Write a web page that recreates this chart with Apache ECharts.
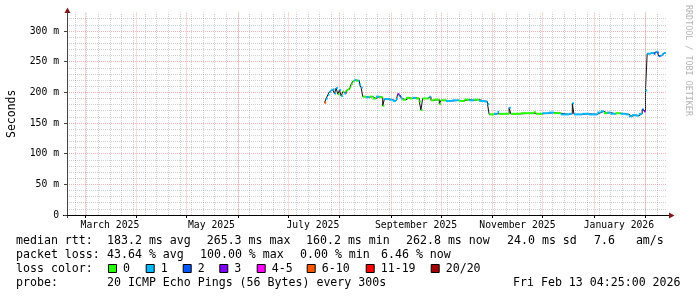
<!DOCTYPE html>
<html><head><meta charset="utf-8">
<script src="https://cdn.jsdelivr.net/npm/echarts@6/dist/echarts.min.js"></script>
<style>html,body{margin:0;padding:0;background:#fff}#c{width:697px;height:297px}</style>
</head><body><div id="c"></div>
<script>
// ---- data ----
const dates = ['2025-07-23','2025-07-24','2025-07-25','2025-07-26','2025-07-27','2025-07-28','2025-07-29','2025-07-30','2025-07-31',
'2025-08-01','2025-08-02','2025-08-03','2025-08-04','2025-08-05','2025-08-06','2025-08-07','2025-08-08','2025-08-09','2025-08-10',
'2025-08-11','2025-08-12','2025-08-13','2025-08-14','2025-08-15','2025-08-17','2025-08-19','2025-08-21','2025-08-23','2025-08-25',
'2025-08-27','2025-08-28','2025-08-31','2025-09-02','2025-09-04','2025-09-05','2025-09-06','2025-09-07','2025-09-08','2025-09-10',
'2025-09-12','2025-09-14','2025-09-16','2025-09-18','2025-09-19','2025-09-20','2025-09-23','2025-09-24','2025-09-25','2025-09-27',
'2025-09-30','2025-10-01','2025-10-04','2025-10-08','2025-10-12','2025-10-15','2025-10-18','2025-10-21','2025-10-24','2025-10-27',
'2025-10-29','2025-10-30','2025-11-02','2025-11-04','2025-11-05','2025-11-11','2025-11-12','2025-11-18','2025-11-26','2025-11-27',
'2025-12-01','2025-12-05','2025-12-08','2025-12-12','2025-12-17','2025-12-19','2025-12-20','2025-12-25','2025-12-29','2026-01-03',
'2026-01-05','2026-01-07','2026-01-09','2026-01-11','2026-01-14','2026-01-17','2026-01-20','2026-01-22','2026-01-24','2026-01-26',
'2026-01-28','2026-01-30','2026-01-31','2026-02-01','2026-02-02','2026-02-04','2026-02-06','2026-02-07','2026-02-08','2026-02-09',
'2026-02-10','2026-02-11','2026-02-12'];
const medians = [183,190,196,201,204,205,198,207,197,
204,194,201,198,203,205,208,213,218,220,
219,219,213,208,193,192,193,190,193,192,
178,189,188,186,189,197,194,190,188,191,
190,191,190,185,171,190,190,193,187,188,
181,187,186,187,186,188,187,188,186,185,
181,164,165,168,165,175,165,166,168,165,
166,167,166,164,165,182,164,165,164,167,
169,166,167,165,166,165,164,161,163,162,
165,172,169,203,263,264,263,266,265,259,
260,262,264];
const losses = [5,1,1,1,1,1,1,1,0,
1,1,0,1,0,0,0,0,0,1,
0,1,1,1,0,1,0,0,1,0,
0,1,1,1,1,3,2,1,0,0,
0,1,0,0,0,0,0,1,0,0,
0,0,1,1,0,0,1,0,1,1,
1,0,1,1,0,1,0,0,0,0,
1,1,0,1,1,1,1,1,1,1,
1,0,1,1,0,1,1,1,1,1,
1,2,3,1,1,1,2,1,2,2,
1,1,1];
const dataEnd = '2026-02-13T04:25:00';
const lossColors = ['#26ff00','#00b8ff','#0059ff','#7e00ff','#ff00ff','#ff5500','#ff0000','#a10000'];
const lossLabels = ['0','1','2','3','4-5','6-10','11-19','20/20'];
const monthStarts = ['2025-03-01','2025-04-01','2025-05-01','2025-06-01','2025-07-01','2025-08-01','2025-09-01','2025-10-01','2025-11-01','2025-12-01','2026-01-01','2026-02-01'];
const monthLabelDates = ['2025-03-16','2025-05-16','2025-07-16','2025-09-16','2025-11-16','2026-01-16'];
const monthLabels = ['March 2025','May 2025','July 2025','September 2025','November 2025','January 2026'];
const firstSunday = '2025-02-23';
const yMajor = [0,50,100,150,200,250,300];
const yLabels = ['0','50 m','100 m','150 m','200 m','250 m','300 m'];
const yMinor = [10,20,30,40,60,70,80,90,110,120,130,140,160,170,180,190,210,220,230,240,260,270,280,290,310,320];
const statRows = [
  ['median rtt:', '183.2 ms avg', '265.3 ms max', '160.2 ms min', '262.8 ms now', '24.0 ms sd', '7.6   am/s'],
  ['packet loss:', '43.64 % avg', '100.00 % max', '0.00 % min', '6.46 % now']
];
const probeText = ['probe:', '20 ICMP Echo Pings (56 Bytes) every 300s', 'Fri Feb 13 04:25:00 2026'];
const axisStart = '2025-02-18T04:15:00', axisEnd = '2026-02-13T22:15:00';

// ---- build ----
const T = s => new Date(s.length === 10 ? s + 'T00:00:00' : s).getTime();
const n = dates.length;
const segs = dates.map((d, i) => [T(d), i < n - 1 ? T(dates[i + 1]) : T(dataEnd), medians[i], losses[i]]);
const lineData = dates.map((d, i) => [T(d), medians[i]]).concat([[T(dataEnd), medians[n - 1]]]);
const X0 = T(axisStart), X1 = T(axisEnd);
const monthT = monthStarts.map(T);
const labelT = monthLabelDates.map(T);
const sundays = [];
for (let t = T(firstSunday); t < X1; t += 7 * 864e5) sundays.push(t);

const FONT = 'DejaVu Sans Mono';
const RED = 'rgba(230,60,60,0.38)';
const GRAY = 'rgba(150,150,150,0.45)';
const nearest = (arr, v) => { let bi = 0; arr.forEach((a, i) => { if (Math.abs(a - v) < Math.abs(arr[bi] - v)) bi = i; }); return bi; };

const chart = echarts.init(document.getElementById('c'), null, {renderer: 'canvas'});

const graphics = [];
const rowY = [241, 255, 269, 283];
const statX = [[16, 107, 206.7, 306, 406, 507, 594], [16, 107, 200, 300, 381]];
const F = '11.6px "' + FONT + '"';
statRows.forEach((row, r) => row.forEach((txt, k) => graphics.push({
  type: 'text', x: statX[r][k], y: rowY[r],
  style: {text: txt, font: F, fill: '#000', verticalAlign: 'middle', align: 'left'}
})));
graphics.push({type: 'text', x: 16, y: rowY[2], style: {text: 'loss color:', font: F, fill: '#000', verticalAlign: 'middle'}});
const boxX = [108, 145.7, 182.7, 219.3, 256.7, 306.7, 365.7, 430.7];
lossLabels.forEach((lab, i) => {
  graphics.push({type: 'rect', shape: {x: boxX[i] + 0.5, y: 264.5, width: 8, height: 8}, style: {fill: lossColors[i], stroke: '#000', lineWidth: 1}});
  graphics.push({type: 'text', x: boxX[i] + 15, y: rowY[2], style: {text: lab, font: F, fill: '#000', verticalAlign: 'middle'}});
});
graphics.push({type: 'text', x: 16, y: rowY[3], style: {text: probeText[0], font: F, fill: '#000', verticalAlign: 'middle'}});
graphics.push({type: 'text', x: 107, y: rowY[3], style: {text: probeText[1], font: F, fill: '#000', verticalAlign: 'middle'}});
graphics.push({type: 'text', x: 513, y: rowY[3], style: {text: probeText[2], font: F, fill: '#000', verticalAlign: 'middle'}});
// credit
graphics.push({type: 'text', x: 688, y: 5, rotation: -Math.PI / 2, style: {text: 'RRDTOOL / TOBI OETIKER', font: '8.4px "' + FONT + '"', fill: '#b4b4b4', verticalAlign: 'middle', align: 'left'}});
// arrows & axis extensions
graphics.push({type: 'line', shape: {x1: 67.5, y1: 215, x2: 67.5, y2: 218}, style: {stroke: '#444', lineWidth: 1}});
graphics.push({type: 'line', shape: {x1: 63, y1: 215.5, x2: 67, y2: 215.5}, style: {stroke: '#000', lineWidth: 1}});
graphics.push({type: 'line', shape: {x1: 667, y1: 215.5, x2: 669, y2: 215.5}, style: {stroke: '#000', lineWidth: 1}});
graphics.push({type: 'polygon', shape: {points: [[64.5, 13], [70.5, 13], [67.5, 7.5]]}, style: {fill: '#7f1a1a'}});
graphics.push({type: 'polygon', shape: {points: [[669, 212.5], [669, 218.5], [674.5, 215.5]]}, style: {fill: '#7f1a1a'}});

const hiddenTick = vals => ({show: true, customValues: vals, length: 0, lineStyle: {color: 'rgba(0,0,0,0)', width: 0}});

chart.setOption({
  animation: false,
  backgroundColor: '#fff',
  grid: {left: 67, top: 12.6, width: 600, height: 202.4, containLabel: false, outerBoundsMode: 'none'},
  xAxis: [
    {type: 'value', min: X0, max: X1, z: 3,
     axisLine: {show: true, onZero: false, lineStyle: {color: '#000', width: 1}},
     axisTick: {show: true, customValues: monthT, length: 3, lineStyle: {color: '#000'}},
     splitLine: {show: true, lineStyle: {color: RED, type: [1, 1], width: 1}},
     axisLabel: {show: true, customValues: labelT, formatter: v => monthLabels[nearest(labelT, v)], margin: 5,
                 fontFamily: FONT, fontSize: 9.75, color: '#000'}}
  ],
  yAxis: [
    {type: 'value', min: 0, max: 330, z: 3,
     name: 'Seconds', nameLocation: 'middle', nameRotate: 90, nameGap: 49,
     nameTextStyle: {fontFamily: FONT, fontSize: 11.5, color: '#000'},
     axisLine: {show: true, lineStyle: {color: '#444', width: 1}},
     axisTick: {show: true, customValues: yMajor, length: 3, lineStyle: {color: '#444'}},
     splitLine: {show: true, lineStyle: {color: RED, type: [1, 1], width: 1}},
     axisLabel: {show: true, customValues: yMajor, formatter: v => yLabels[nearest(yMajor, v)], margin: 8,
                 fontFamily: FONT, fontSize: 9.75, color: '#000'}},
    {type: 'value', min: 0, max: 330, z: 1,
     axisLine: {show: false}, axisTick: hiddenTick(yMinor), axisLabel: {show: false},
     splitLine: {show: true, lineStyle: {color: GRAY, type: [1, 1], width: 1}}}
  ],
  series: [
    {type: 'line', xAxisIndex: 0, yAxisIndex: 0, data: [], z: 1, silent: true,
     markLine: {silent: true, symbol: 'none', label: {show: false}, animation: false,
       lineStyle: {color: GRAY, type: [1, 1], width: 1},
       data: sundays.map(t => ({xAxis: t}))}},
    {type: 'line', xAxisIndex: 0, yAxisIndex: 0, step: 'end', data: lineData, symbol: 'none', z: 4,
     lineStyle: {color: '#111', width: 1}, silent: true},
    {type: 'custom', xAxisIndex: 0, yAxisIndex: 0, data: segs, z: 5, silent: true,
     encode: {x: [0, 1], y: 2},
     renderItem: (params, api) => {
       const p0 = api.coord([api.value(0), api.value(2)]);
       const p1 = api.coord([api.value(1), api.value(2)]);
       return {type: 'rect', shape: {x: p0[0], y: p0[1] - 1, width: Math.max(p1[0] - p0[0], 1), height: 2},
               style: {fill: lossColors[api.value(3)]}};
     }}
  ],
  graphic: graphics
});
</script>
</body></html>
